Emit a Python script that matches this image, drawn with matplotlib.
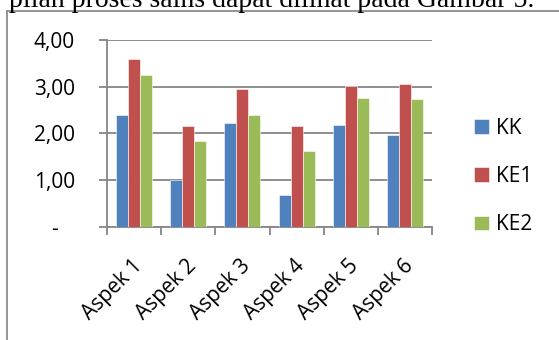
import numpy as np
import matplotlib
matplotlib.use('Agg')
import matplotlib.pyplot as plt
import matplotlib.transforms as mtransforms
from matplotlib.lines import Line2D

aspek = ['Aspek 1', 'Aspek 2', 'Aspek 3', 'Aspek 4', 'Aspek 5', 'Aspek 6']
kk = [2.40, 1.00, 2.23, 0.68, 2.17, 1.96]
ke1 = [3.59, 2.16, 2.95, 2.15, 3.02, 3.06]
ke2 = [3.25, 1.83, 2.39, 1.63, 2.75, 2.74]
series_names = ['KK', 'KE1', 'KE2']
y_ticks = [0, 1, 2, 3, 4]
y_labels = ['-   ', '1,00', '2,00', '3,00', '4,00']

colors = ['#4F81BD', '#C0504D', '#9BBB59']
grid_gray = '#868686'

plt.rcParams['font.family'] = ['Open Sans', 'DejaVu Sans']

W, H = 559, 340
fig = plt.figure(figsize=(W / 100, H / 100), dpi=100)
ax = fig.add_axes([107 / W, 1 - 226.7 / H, (432 - 107) / W, (226.7 - 40) / H])

x = np.arange(len(aspek))
bw = 1 / 4.5
for i, (vals, name) in enumerate(zip([kk, ke1, ke2], series_names)):
    ax.bar(x + (i - 1) * bw, vals, bw, color=colors[i], label=name,
           edgecolor='white', linewidth=0.4, zorder=3)

ax.set_xlim(-0.5, len(aspek) - 0.5)
ax.set_ylim(0, 4)
ax.set_yticks(y_ticks)
ax.set_yticklabels(y_labels)
ax.yaxis.grid(True, color=grid_gray, linewidth=1.3, zorder=0)

# category ticks at the boundaries, labels in the middle
ax.set_xticks(np.arange(-0.5, len(aspek)), minor=True)
ax.set_xticks(x)
ax.set_xticklabels(aspek, rotation=45, ha='right', va='center', rotation_mode='anchor')
ax.tick_params(axis='x', which='major', length=0, pad=26, labelsize=15)
ax.tick_params(axis='x', which='minor', length=6, width=1.3, color=grid_gray)
ax.tick_params(axis='y', length=6, width=1.3, color=grid_gray, pad=17, labelsize=15)

shift = mtransforms.ScaledTranslation(5 / 100, 0, fig.dpi_scale_trans)
for lab in ax.get_xticklabels():
    lab.set_transform(lab.get_transform() + shift)

for side in ['top', 'right']:
    ax.spines[side].set_visible(False)
for side in ['left', 'bottom']:
    ax.spines[side].set_color(grid_gray)
    ax.spines[side].set_linewidth(1.3)

ax.legend(loc='center left', bbox_to_anchor=(474 / W, 1 - 176.5 / H),
          bbox_transform=fig.transFigure, frameon=False, fontsize=15,
          handlelength=0.7, handleheight=0.7, handletextpad=0.35,
          labelspacing=1.3, borderaxespad=0, borderpad=0)

# frame of the chart object in the document
fig.add_artist(Line2D([6.5 / W, 6.5 / W], [0, 1 - 11 / H], color='#8c8c8c', linewidth=1.3,
                      transform=fig.transFigure))
fig.add_artist(Line2D([6.5 / W, 1], [1 - 11 / H, 1 - 11 / H], color='#8c8c8c', linewidth=1.3,
                      transform=fig.transFigure))

# document text above the chart, cut off at the top
fig.text(9 / W, 1 - 7 / H, 'pilan proses sains dapat dilihat pada Gambar 5.',
         family='Liberation Serif', fontsize=20, va='baseline', ha='left')

fig.savefig('out.png', dpi=100)
